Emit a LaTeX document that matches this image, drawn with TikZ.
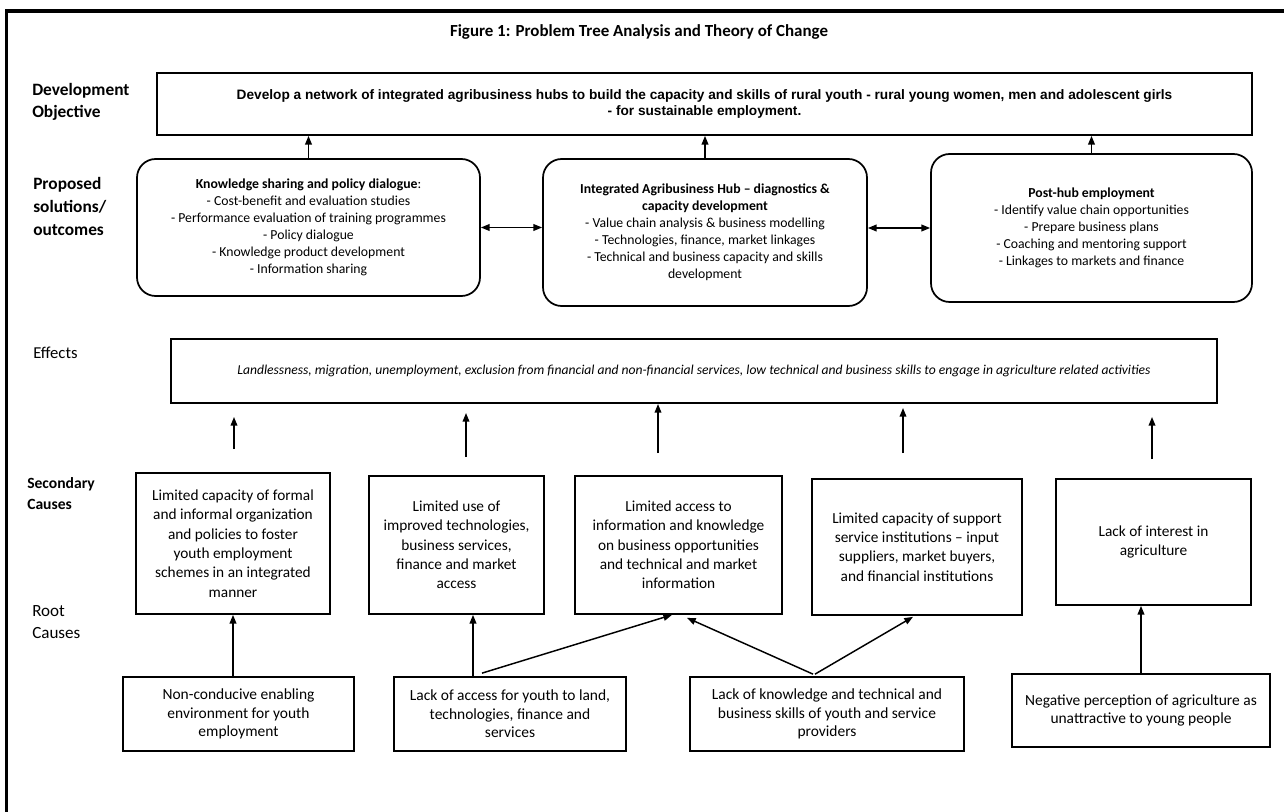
\documentclass[tikz,border=0pt]{standalone}
\usepackage{fontspec}
\setmainfont{Carlito}
\newfontfamily\arialfont{Liberation Sans}
\usetikzlibrary{arrows.meta,calc}
\newlength{\pxu}\setlength{\pxu}{0.75pt}
\newcommand{\fsz}[2]{\fontsize{#1}{#2}\selectfont}

\begin{document}
\begin{tikzpicture}[x=0.75pt,y=-0.75pt,
    box/.style={draw,line width=1.3pt,inner sep=0pt,align=center},
    solbox/.style={box,rounded corners=14pt,font=\fsz{10.3}{12.75}},
    secbox/.style={box,font=\fsz{11.5}{14.5}},
    rootbox/.style={box,minimum height=74\pxu,font=\fsz{11.6}{13.9}},
    arr/.style={-{Triangle[length=6.5pt,width=5pt]},line width=1.1pt},
    biarr/.style={{Triangle[length=6.5pt,width=5pt]}-{Triangle[length=6.5pt,width=5pt]},line width=1.1pt},
    lbl/.style={anchor=west,align=left,inner sep=0pt}]
    \useasboundingbox (0,0) rectangle (1284,812);
    \draw[line width=2.3pt] (6.5,812) -- (6.5,11) -- (1284,11);

    \node[font=\bfseries\fsz{12.7}{14}] (title) at (639,32) {Figure 1: Problem Tree Analysis and Theory of Change};
    \node[lbl,font=\bfseries\fsz{13}{16.5}] (devlbl) at (32,102) {Development\\Objective};
    \node[lbl,font=\bfseries\fsz{13}{17.5}] (sollbl) at (33,206.5) {Proposed\\solutions/\\outcomes};
    \node[lbl,font=\fsz{12.5}{14}] (efflbl) at (33,353) {Effects};
    \node[lbl,font=\bfseries\fsz{11.7}{15.75}] (seclbl) at (27,493.5) {Secondary\\Causes};
    \node[lbl,font=\fsz{12.8}{16.5}] (rootlbl) at (32,622) {Root\\Causes};

    \node[box,minimum width=1095\pxu,minimum height=62\pxu,font=\arialfont\bfseries\fsz{10.25}{12}] (obj) at (704.5,104)
      {Develop a network of integrated agribusiness hubs to build the capacity and skills of rural youth - rural young women, men and adolescent girls\\- for sustainable employment.};

    \node[solbox,minimum width=343\pxu,minimum height=137\pxu] (ks) at (308.5,227.5)
      {\textbf{Knowledge sharing and policy dialogue}:\\- Cost-benefit and evaluation studies\\- Performance evaluation of training programmes\\- Policy dialogue\\- Knowledge product development\\- Information sharing};
    \node[solbox,minimum width=324\pxu,minimum height=147\pxu] (hub) at (705,232.5)
      {\textbf{Integrated Agribusiness Hub – diagnostics \&}\\\textbf{capacity development}\\- Value chain analysis \& business modelling\\- Technologies, finance, market linkages\\- Technical and business capacity and skills\\development};
    \node[solbox,minimum width=321\pxu,minimum height=148\pxu] (post) at (1091.5,228)
      {\textbf{Post-hub employment}\\- Identify value chain opportunities\\- Prepare business plans\\- Coaching and mentoring support\\- Linkages to markets and finance};

    \node[box,minimum width=1046\pxu,minimum height=64\pxu,font=\itshape\fsz{10.2}{12}] (eff) at (694,371)
      {Landlessness, migration, unemployment, exclusion from financial and non-financial services, low technical and business skills to engage in agriculture related activities};

    \node[secbox,minimum width=194\pxu,minimum height=141\pxu] (sc1) at (233,543.5)
      {Limited capacity of formal\\and informal organization\\and policies to foster\\youth employment\\schemes in an integrated\\manner};
    \node[secbox,minimum width=175\pxu,minimum height=138\pxu] (sc2) at (456.5,545)
      {Limited use of\\improved technologies,\\business services,\\finance and market\\access};
    \node[secbox,minimum width=207\pxu,minimum height=138\pxu] (sc3) at (678.5,545)
      {Limited access to\\information and knowledge\\on business opportunities\\and technical and market\\information};
    \node[secbox,minimum width=210\pxu,minimum height=136\pxu] (sc4) at (917,547)
      {Limited capacity of support\\service institutions – input\\suppliers, market buyers,\\and financial institutions};
    \node[secbox,minimum width=195\pxu,minimum height=126\pxu] (sc5) at (1153.5,542)
      {Lack of interest in\\agriculture};

    \node[rootbox,minimum width=231\pxu] (rc1) at (238.5,714)
      {Non-conducive enabling\\environment for youth\\employment};
    \node[rootbox,minimum width=232\pxu] (rc2) at (510,714)
      {Lack of access for youth to land,\\technologies, finance and\\services};
    \node[rootbox,minimum width=274\pxu] (rc3) at (827,714)
      {Lack of knowledge and technical and\\business skills of youth and service\\providers};
    \node[rootbox,minimum width=258\pxu,minimum height=73\pxu] (rc4) at (1141,710.5)
      {Negative perception of agriculture as\\unattractive to young people};

    \draw[arr] (ks.north) -- (ks.north |- obj.south);
    \draw[arr] (hub.north) -- (hub.north |- obj.south);
    \draw[arr] (post.north) -- (post.north |- obj.south);
    \draw[biarr] (ks.east) -- (ks.east -| hub.west);
    \draw[biarr] (hub.east |- post.west) -- (post.west);

    \foreach \x/\ya/\yb [count=\i] in {234/449/417,466/457/413,658/453/404,903/453/408,1152/459/417}{
      \coordinate (up\i) at (\x,\ya);
      \coordinate (tip\i) at (\x,\yb);
      \draw[arr] (up\i) -- (tip\i);
    }

    \draw[arr] (rc1.north -| sc1.south) -- (sc1.south);
    \draw[arr] ($(rc2.north)+(-37,0)$) -- ($(sc2.south)+(16.5,0)$);
    \draw[arr] ($(rc2.north)+(-28,-3)$) -- ($(sc3.south)+(-6.5,0)$);
    \draw[arr] ($(rc3.north)+(-14,-2)$) -- ($(sc3.south)+(8.5,3)$);
    \draw[arr] ($(rc3.north)+(-12,-2)$) -- ($(sc4.south)+(-4,1)$);
    \draw[arr] (rc4.north) -- (rc4.north |- sc5.south);
\end{tikzpicture}
\end{document}
